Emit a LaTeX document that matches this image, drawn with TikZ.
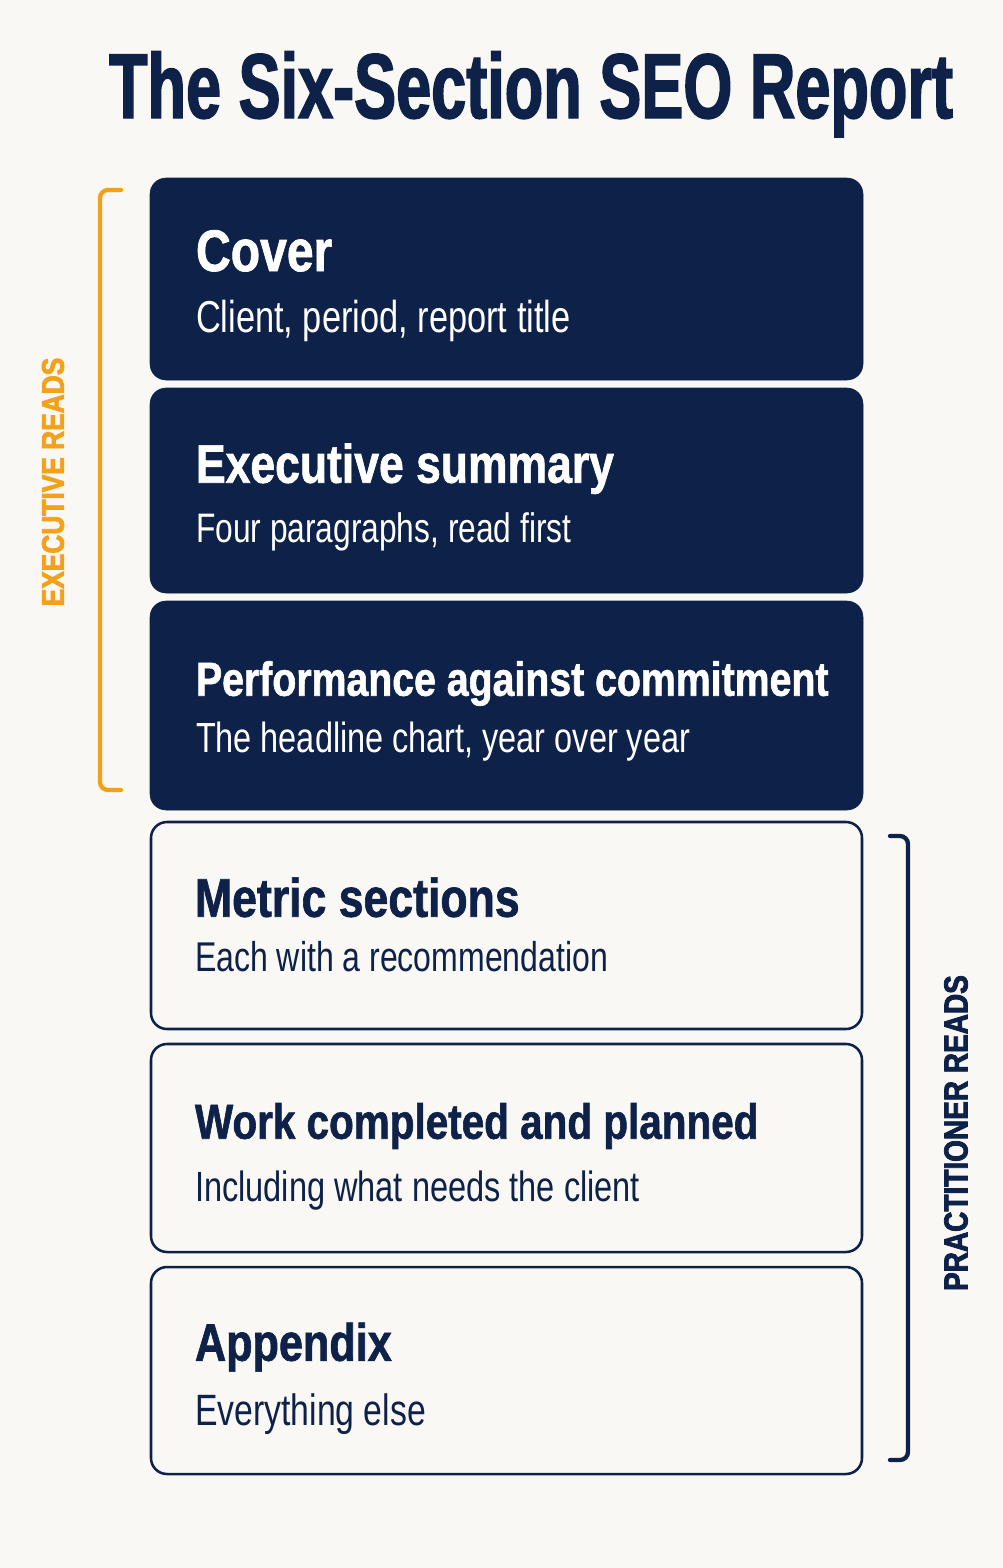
\documentclass[tikz,border=0pt]{standalone}
\usepackage{fontspec}
\setmainfont{Liberation Sans}
\newfontfamily\titlefont[FakeStretch=0.685,FakeBold=1.6]{Liberation Sans Bold}
\newfontfamily\headfont[FakeStretch=0.82,FakeBold=1.2]{Liberation Sans Bold}
\newfontfamily\tagfont[FakeStretch=0.84,FakeBold=2.5]{Liberation Sans Bold}
\newfontfamily\subfont[FakeStretch=0.77]{Liberation Sans}
\usetikzlibrary{fit}
\definecolor{navy}{HTML}{0D2149}
\definecolor{amber}{HTML}{F3A11B}
\definecolor{paper}{HTML}{FAF8F5}
\newcommand{\headsz}[1]{\headfont\fontsize{#1}{#1}\selectfont}
\newcommand{\subsz}[1]{\subfont\fontsize{#1}{#1}\selectfont}

\begin{document}
\begin{tikzpicture}[x=0.75pt,y=-0.75pt,
  darkbox/.style={fill=navy,draw=navy,rounded corners=12pt,inner sep=0pt},
  lightbox/.style={fill=paper,draw=navy,line width=1.9pt,rounded corners=12pt,inner sep=0pt},
  head/.style={anchor=base west,inner sep=0pt},
  sub/.style={anchor=base west,inner sep=0pt},
  tag/.style={rotate=90,inner sep=0pt,font=\tagfont\fontsize{23.5}{24}\selectfont},
  bracket/.style={line width=3.2pt,rounded corners=6pt,line cap=round}] %
    \fill[paper] (0,0) rectangle (1003,1568);
    \useasboundingbox (0,0) rectangle (1003,1568);
    \node[anchor=base,inner sep=0pt,text=navy,font=\titlefont\fontsize{69}{69}\selectfont] (title) at (531,118) {The Six-Section SEO Report} ; %
    % executive sections
    \node[darkbox,fit={(150,178) (863,380)}] (cover) {} ; %
    \node[darkbox,fit={(150,388) (863,593)}] (summary) {} ; %
    \node[darkbox,fit={(150,601) (863,810)}] (perf) {} ; %
    % practitioner sections
    \node[lightbox,fit={(151,822) (862,1029)}] (metric) {} ; %
    \node[lightbox,fit={(151,1044) (862,1252)}] (work) {} ; %
    \node[lightbox,fit={(151,1267) (862,1474)}] (appendix) {} ; %
    \node[head,text=white,font=\headsz{44}] (coverh) at ([xshift=34.5pt,yshift=-70pt]cover.north west) {Cover};
    \node[sub,text=white,font=\subsz{33.5}] (covers) at ([xshift=34.5pt,yshift=-116.25pt]cover.north west) {Client, period, report title};
    \node[head,text=white,font=\headsz{40.7}] (summaryh) at ([xshift=34.5pt,yshift=-71.25pt]summary.north west) {Executive summary};
    \node[sub,text=white,font=\subsz{30.9}] (summarys) at ([xshift=34.5pt,yshift=-116.25pt]summary.north west) {Four paragraphs, read first};
    \node[head,text=white,font=\headsz{35.9}] (perfh) at ([xshift=34.5pt,yshift=-71.25pt]perf.north west) {Performance against commitment};
    \node[sub,text=white,font=\subsz{31.6}] (perfs) at ([xshift=34.5pt,yshift=-114pt]perf.north west) {The headline chart, year over year};
    \node[head,text=navy,font=\headsz{40.8}] (metrich) at ([xshift=33.75pt,yshift=-72pt]metric.north west) {Metric sections};
    \node[sub,text=navy,font=\subsz{31.2}] (metrics) at ([xshift=33.75pt,yshift=-113.25pt]metric.north west) {Each with a recommendation};
    \node[head,text=navy,font=\headsz{37}] (workh) at ([xshift=33.75pt,yshift=-72pt]work.north west) {Work completed and planned};
    \node[sub,text=navy,font=\subsz{31.7}] (works) at ([xshift=33.75pt,yshift=-119pt]work.north west) {Including what needs the client};
    \node[head,text=navy,font=\headsz{39.5}] (appendixh) at ([xshift=33.75pt,yshift=-71.25pt]appendix.north west) {Appendix};
    \node[sub,text=navy,font=\subsz{32.9}] (appendixs) at ([xshift=33.75pt,yshift=-120pt]appendix.north west) {Everything else};
    % brackets
    \coordinate (exectop) at (121,190);
    \coordinate (execbot) at (121,790);
    \coordinate (practop) at (890,836);
    \coordinate (pracbot) at (890,1460);
    \draw[bracket,amber] (exectop) -- (100,190) -- (100,790) -- (execbot);
    \draw[bracket,navy] (practop) -- (908,836) -- (908,1460) -- (pracbot);
    \node[tag,text=amber] (exec) at (53,482) {EXECUTIVE READS};
    \node[tag,text=navy,font=\tagfont\fontsize{25}{26}\selectfont] (prac) at (956,1133) {PRACTITIONER READS};
  \end{tikzpicture}
\end{document}
